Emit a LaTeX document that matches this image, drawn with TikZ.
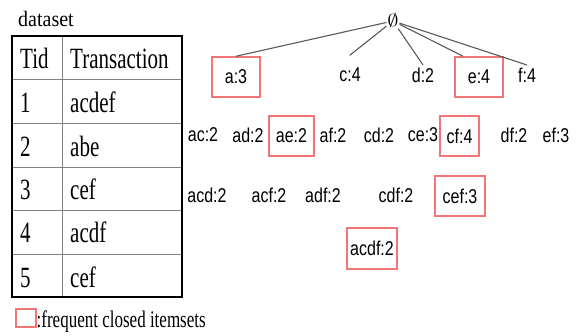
\documentclass[tikz,border=0pt]{standalone}
\usepackage{fontspec}
\setmainfont{Liberation Serif}
\setsansfont{Liberation Sans}
\definecolor{fcired}{RGB}{242,118,118}
\tikzset{
  itemset/.style={font=\fontsize{16}{16}\sffamily,yscale=1.25,transform shape,inner sep=2pt},
  closed/.style={itemset,draw=fcired,line width=1.2pt,minimum height=32pt},
  cell/.style={font=\fontsize{21}{21}\selectfont,yscale=1.4,transform shape,anchor=base west,inner sep=0pt},
  edge/.style={black!65,line width=1.1pt}
}

\begin{document}
\begin{tikzpicture}[x=1pt,y=-1pt]
\useasboundingbox (0,0) rectangle (577,336);
% dataset table
\node[font=\fontsize{20}{20}\selectfont,yscale=1.1,transform shape,anchor=base west,inner sep=0pt] (title) at (18,26.7) {dataset};
\draw[black!50,line width=1pt] (62,36) -- (62,297);
\foreach \y in {80,124,168,211,254} \draw[black!50,line width=1pt] (12,\y) -- (182,\y);
\draw[line width=2pt] (12,36) rectangle (182,297);
\node[cell] (tidh) at (20,69) {Tid};
\node[cell] (trh) at (70,69) {Transaction};
\foreach \i/\t/\y in {1/acdef/113,2/abe/157,3/cef/200,4/acdf/243,5/cef/287}{
  \node[cell] (tid\i) at (20,\y) {\i};
  \node[cell] (tr\i) at (70,\y) {\t};
}
% legend
\node[draw=fcired,line width=1.2pt,minimum width=20pt,minimum height=18pt,inner sep=0pt] (key) at (26,318) {};
\node[font=\fontsize{17}{17}\selectfont,yscale=1.4,transform shape,anchor=base west,inner sep=0pt] (keytext) at (36.5,327) {:frequent closed itemsets};
% itemset lattice
\node[font=\fontsize{18}{18}\selectfont,xscale=1.3,transform shape,inner sep=0.5pt] (root) at (393,21) {$\emptyset$};
\node[closed,minimum width=48pt] (a) at (236,77) {a:3};
\node[itemset] (c) at (350,75) {c:4};
\node[itemset] (d) at (423,75) {d:2};
\node[closed,minimum width=48pt] (e) at (479,77) {e:4};
\node[itemset] (f) at (527,75) {f:4};
\draw[edge] (root) -- (a.north);
\draw[edge,shorten >=16pt] (root) -- (c.north west);
\draw[edge] (root) -- (d.north);
\draw[edge] (root) -- ([xshift=-16pt]e.north);
\draw[edge] (root) -- (f.north);
\foreach \n/\t/\x in {ac/ac:2/203,ad/ad:2/248,af/af:2/333,cd/cd:2/379,ce/ce:3/423,df/df:2/514,ef/ef:3/556}
  \node[itemset] (\n) at (\x,135) {\t};
\node[closed,minimum width=45pt] (ae) at (291.5,136) {ae:2};
\node[closed,minimum width=39pt] (cf) at (459.5,136) {cf:4};
\foreach \n/\t/\x in {acd/acd:2/207,acf/acf:2/269,adf/adf:2/323,cdf/cdf:2/396}
  \node[itemset] (\n) at (\x,195) {\t};
\node[closed,minimum width=50pt] (cef) at (460,196) {cef:3};
\node[closed,minimum width=50pt,minimum height=32.8pt] (acdf) at (372,248.5) {acdf:2};
\end{tikzpicture}
\end{document}
